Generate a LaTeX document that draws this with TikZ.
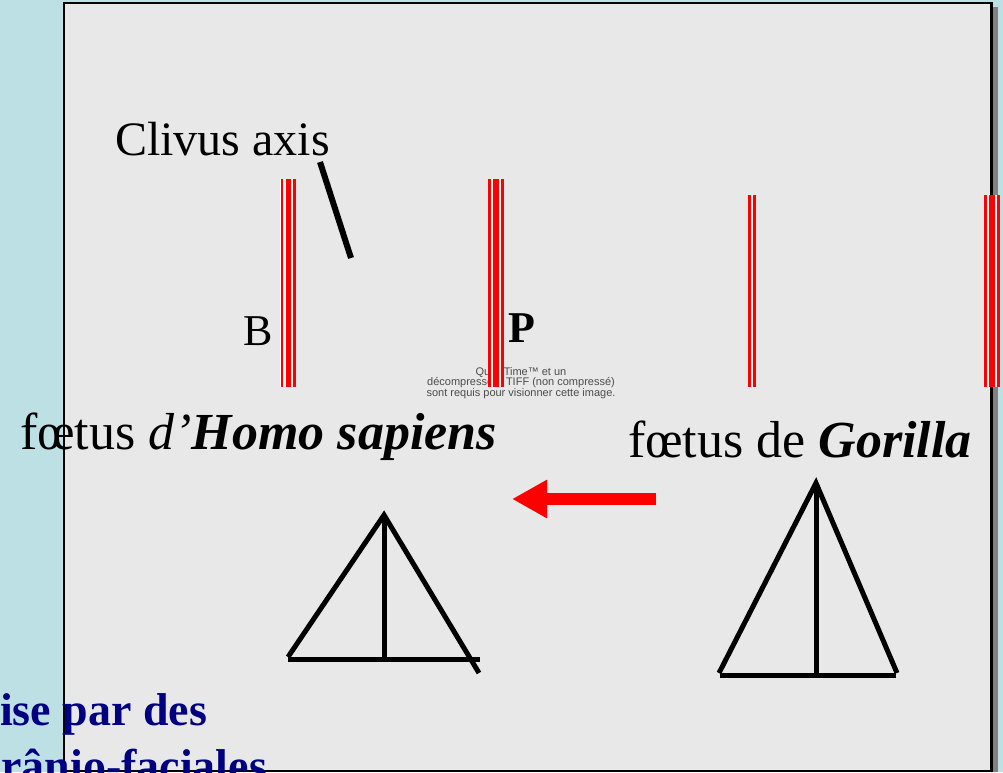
\documentclass[tikz,border=0pt]{standalone}
\usepackage{fontspec}
\setmainfont{Liberation Serif}
\newfontfamily\qtfont{Liberation Sans}
\usetikzlibrary{arrows.meta}
\definecolor{slidebg}{HTML}{BDE0E4}
\definecolor{panelgrey}{HTML}{E8E8E8}
\definecolor{titlenavy}{HTML}{000080}
\begin{document}
\begin{tikzpicture}[x=1pt,y=-1pt,
    every node/.style={inner sep=0pt,outer sep=0pt},
    bigtext/.style={font=\fontsize{52}{60}\selectfont,anchor=base west},
    midtext/.style={font=\fontsize{46}{54}\selectfont,anchor=base west},
    navytext/.style={font=\bfseries\fontsize{46}{54}\selectfont,text=titlenavy},
    triline/.style={line width=5}]
    \useasboundingbox (0,0) rectangle (1003,772);
    \clip (0,0) rectangle (1003,772);
    \fill[slidebg] (0,0) rectangle (1003,772);
    \fill[gray] (993,7) rectangle (998,772);
    \filldraw[fill=panelgrey,draw=black,line width=2.5] (64,3) rectangle (991.5,771);
    % QuickTime placeholder
    \node[font=\qtfont\fontsize{11}{10.5}\selectfont,text=gray!60!black,align=center]
        (qtnote) at (521,383) {QuickTime™ et un\\décompresseur TIFF (non compressé)\\sont requis pour visionner cette image.};
    % red planes
    \foreach \xl/\xr/\yt in {280/296/179,488/504/179,748/756/195,984/1000/195}
        \fill[white] (\xl,\yt) rectangle (\xr,387);
    \foreach \xl/\xr/\yt in {280.5/283/179,286/291/179,293/296/179,
        488/491/179,493/499/179,501/504/179,748/751/195,753/756/195,
        984/987/195,989/995/195,997/1000/195}
        \fill[red] (\xl,\yt) rectangle (\xr,387);
    % labels
    \node[midtext,font=\fontsize{48}{56}\selectfont] (clivus) at (115,155) {Clivus axis};
    \coordinate (clivustop) at (320,162);
    \coordinate (clivusend) at (351,258);
    \draw[line width=6] (clivustop) -- (clivusend);
    \node[midtext,font=\fontsize{44}{52}\selectfont] (basion) at (243,345) {B};
    \node[midtext,font=\bfseries\fontsize{44}{52}\selectfont] (pnode) at (508,342) {P};
    \node[bigtext] (homo) at (20,449) {fœtus \textit{d’}\textbf{\textit{Homo sapiens}}};
    \node[bigtext] (gorilla) at (628,457) {fœtus de \textbf{\textit{Gorilla}}};
    % arrow
    \coordinate (arrowtail) at (656,499);
    \coordinate (arrowtip) at (512,499);
    \draw[red,line width=12,-{Triangle[length=35pt,width=36pt]}] (arrowtail) -- (arrowtip);
    % triangles
    \draw[triline] (288,657) -- (384,515) -- (479,673);
    \draw[triline] (384,515) -- (384,659);
    \draw[triline] (288,659) -- (480,659);
    \draw[triline] (719,673) -- (816,483) -- (897,673);
    \draw[triline] (816,483) -- (816,675);
    \draw[triline] (720,675) -- (896,675);
    % slide text
    \node[navytext,anchor=base west] (subtitle) at (0,725) {ise par des};
    \node[navytext,anchor=base east] (subtitletwo) at (267,781) {crânio-faciales};
\end{tikzpicture}
\end{document}
